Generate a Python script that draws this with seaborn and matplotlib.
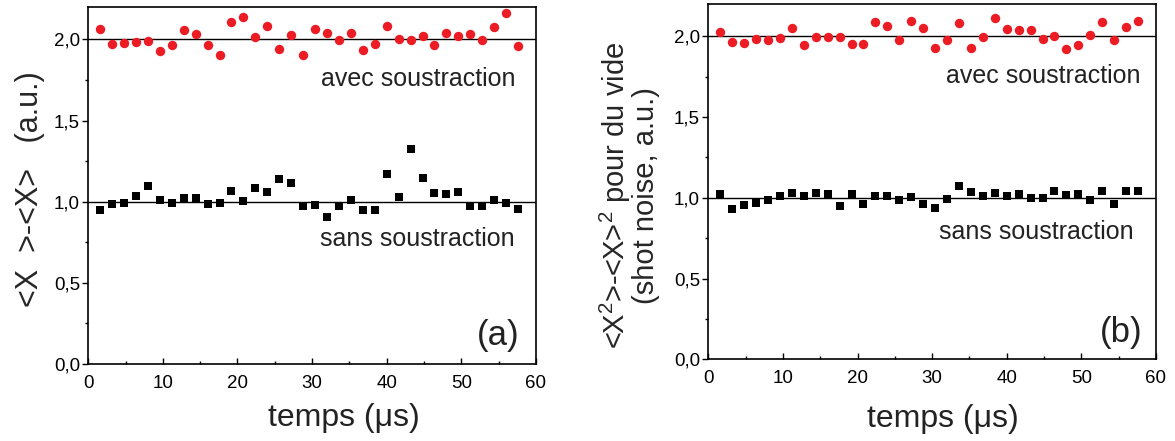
import matplotlib
matplotlib.use("Agg")
import matplotlib.pyplot as plt
from matplotlib.ticker import MultipleLocator, FuncFormatter
import seaborn as sns

# time axis (µs), same for every series
temps = [1.6, 3.2, 4.8, 6.4, 8.0, 9.6, 11.2, 12.8, 14.4, 16.0, 17.6, 19.2,
         20.8, 22.4, 24.0, 25.6, 27.2, 28.8, 30.4, 32.0, 33.6, 35.2, 36.8, 38.4,
         40.0, 41.6, 43.2, 44.8, 46.4, 48.0, 49.6, 51.2, 52.8, 54.4, 56.0, 57.6]

# panel (a)
a_avec = [2.064, 1.971, 1.977, 1.986, 1.990, 1.930, 1.963, 2.056, 2.035, 1.963,
          1.905, 2.107, 2.138, 2.016, 2.086, 1.944, 2.029, 1.907, 2.064, 2.037,
          1.996, 2.039, 1.936, 1.975, 2.084, 2.002, 1.996, 2.023, 1.967, 2.039,
          2.021, 2.035, 1.998, 2.078, 2.165, 1.957]
a_sans = [0.947, 0.986, 0.994, 1.033, 1.099, 1.010, 0.992, 1.021, 1.021, 0.984,
          0.994, 1.064, 1.004, 1.082, 1.060, 1.140, 1.113, 0.973, 0.977, 0.905,
          0.971, 1.008, 0.949, 0.949, 1.173, 1.027, 1.327, 1.148, 1.056, 1.049,
          1.058, 0.973, 0.973, 1.010, 0.990, 0.957]

# panel (b)
b_avec = [2.025, 1.965, 1.959, 1.981, 1.977, 1.992, 2.049, 1.944, 1.994, 1.998,
          1.996, 1.953, 1.953, 2.086, 2.066, 1.977, 2.097, 2.051, 1.928, 1.975,
          2.082, 1.928, 1.994, 2.115, 2.045, 2.039, 2.037, 1.984, 2.004, 1.920,
          1.947, 2.006, 2.088, 1.977, 2.056, 2.093]
b_sans = [1.021, 0.930, 0.957, 0.967, 0.988, 1.014, 1.027, 1.010, 1.027, 1.025,
          0.951, 1.023, 0.959, 1.008, 1.012, 0.988, 1.006, 0.961, 0.936, 0.990,
          1.072, 1.035, 1.012, 1.029, 1.012, 1.021, 0.996, 1.000, 1.041, 1.016,
          1.025, 0.988, 1.041, 0.963, 1.041, 1.041]

ref_levels = [1.0, 2.0]
RED = "#ec1c24"

sns.set_style("ticks")
plt.rcParams["font.family"] = ["Liberation Sans", "DejaVu Sans"]
plt.rcParams["mathtext.fontset"] = "custom"
plt.rcParams["mathtext.rm"] = "Liberation Sans"
plt.rcParams["mathtext.it"] = "Liberation Sans"

fig = plt.figure(figsize=(11.75, 4.41), dpi=100)
ax_a = fig.add_axes([0.0751, 0.1746, 0.381, 0.8095])
ax_b = fig.add_axes([0.6028, 0.1853, 0.381, 0.8057])

comma = FuncFormatter(lambda v, p: f"{v:.1f}".replace(".", ","))


def style_axes(ax):
    ax.set_xlim(0, 60)
    ax.set_ylim(0, 2.2)
    ax.xaxis.set_major_locator(MultipleLocator(10))
    ax.xaxis.set_minor_locator(MultipleLocator(5))
    ax.yaxis.set_major_locator(MultipleLocator(0.5))
    ax.yaxis.set_minor_locator(MultipleLocator(0.25))
    ax.yaxis.set_major_formatter(comma)
    for s in ax.spines.values():
        s.set_visible(True)
        s.set_linewidth(1.2)
        s.set_color("black")
    ax.tick_params(axis="x", which="both", direction="in", labelsize=13.5,
                   pad=8, top=False, colors="black")
    ax.tick_params(axis="y", which="both", direction="out", labelsize=13.5,
                   pad=2, right=False, colors="black")
    ax.tick_params(which="major", length=4, width=1)
    ax.tick_params(which="minor", length=2.5, width=1)
    for lev in ref_levels:
        ax.axhline(lev, color="black", lw=1, zorder=1)
    ax.set_xlabel("")
    ax.set_ylabel("")


for ax, avec, sans in [(ax_a, a_avec, a_sans), (ax_b, b_avec, b_sans)]:
    sns.scatterplot(x=temps, y=avec, ax=ax, color=RED, marker="o", s=46,
                    linewidth=0, zorder=3)
    sns.scatterplot(x=temps, y=sans, ax=ax, color="black", marker="s", s=36,
                    linewidth=0, zorder=3)
    style_axes(ax)

# annotations panel (a)
ax_a.text(44.2, 1.716, "avec soustraction", fontsize=18, ha="center",
          va="baseline", color="#222222")
ax_a.text(44.1, 0.728, "sans soustraction", fontsize=18, ha="center",
          va="baseline", color="#222222")
ax_a.text(54.9, 0.117, "(a)", fontsize=25, ha="center", va="baseline",
          color="#222222")
ax_a.text(0.57, -0.174, "temps (\u03bcs)", fontsize=23, ha="center",
          va="baseline", transform=ax_a.transAxes, color="#222222")
ax_a.text(-0.13, 0.49, "<X  >-<X>   (a.u.)", fontsize=22, rotation=90,
          ha="center", va="center", transform=ax_a.transAxes)

# annotations panel (b)
ax_b.text(44.9, 1.712, "avec soustraction", fontsize=18, ha="center",
          va="baseline", color="#222222")
ax_b.text(44.0, 0.743, "sans soustraction", fontsize=18, ha="center",
          va="baseline", color="#222222")
ax_b.text(55.4, 0.107, "(b)", fontsize=25, ha="center", va="baseline",
          color="#222222")
ax_b.text(0.524, -0.191, "temps (\u03bcs)", fontsize=23, ha="center",
          va="baseline", transform=ax_b.transAxes, color="#222222")
ax_b.text(-0.178, 0.46,
          "<X$^2$>-<X>$^2$ pour du vide\n(shot noise, a.u.)",
          fontsize=21, rotation=90, ha="center", va="center",
          linespacing=0.95, multialignment="center",
          transform=ax_b.transAxes)

fig.savefig("out.png", dpi=100)
